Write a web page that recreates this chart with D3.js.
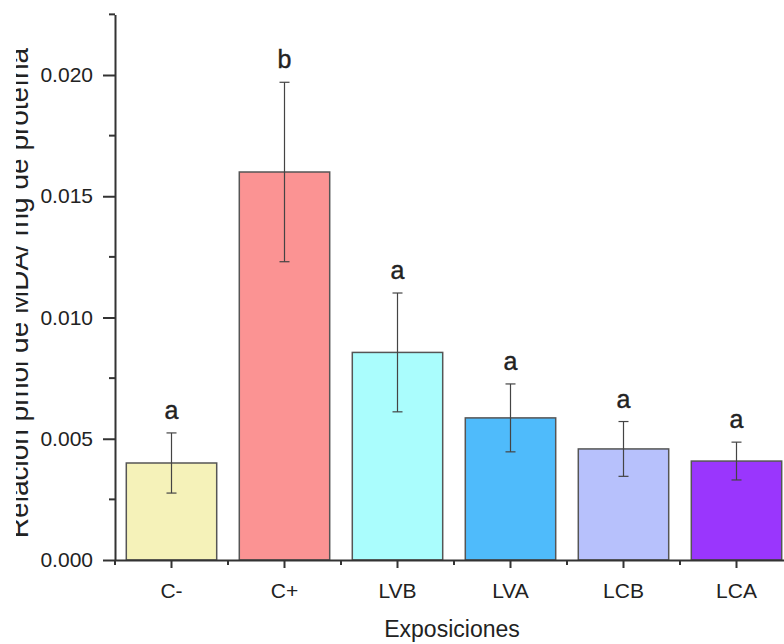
<!DOCTYPE html>
<html>
<head>
<meta charset="utf-8">
<script src="https://cdn.jsdelivr.net/npm/d3@7"></script>
<style>
  body { margin: 0; background: #fff; }
  text { font-family: "Liberation Sans", Arial, sans-serif; fill: #222; }
</style>
</head>
<body>
<div id="chart"></div>
<script>
// data
const groups = ["C-", "C+", "LVB", "LVA", "LCB", "LCA"];
const means = [0.0040, 0.0160, 0.00856, 0.00586, 0.00458, 0.00408];
const errors = [0.00124, 0.0037, 0.00245, 0.0014, 0.00113, 0.00078];
const letters = ["a", "b", "a", "a", "a", "a"];
const barColors = ["#f5f2b9", "#fb9393", "#aafdfd", "#4fbbfb", "#b7c1fc", "#9a36fd"];
const yTicks = [0, 0.005, 0.010, 0.015, 0.020];

var W = 784, H = 644;
var x0 = 115, yBase = 560;

var svg = d3.select("#chart")
  .append("svg")
    .attr("width", W)
    .attr("height", H);

// x scale runs past the right edge, the original is cropped there
var x = d3.scaleBand()
  .domain(groups)
  .range([x0, x0 + 6 * 113])
  .paddingInner(0.2)
  .paddingOuter(0.1);

var y = d3.scaleLinear()
  .domain([0, 0.0225])
  .range([yBase, yBase - 0.0225 * 24250]);

// bars
svg.selectAll("rect.bar")
  .data(groups)
  .enter()
  .append("rect")
    .attr("class", "bar")
    .attr("x", function(d) { return x(d); })
    .attr("y", function(d, i) { return y(means[i]); })
    .attr("width", x.bandwidth())
    .attr("height", function(d, i) { return yBase - y(means[i]); })
    .attr("fill", function(d, i) { return barColors[i]; })
    .attr("stroke", "#555")
    .attr("stroke-width", 1.5);

// error bars + letters
var eb = svg.append("g")
  .attr("stroke", "#444")
  .attr("stroke-width", 1.2);

groups.forEach(function(g, i) {
  var cx = x(g) + x.bandwidth() / 2;
  var top = y(means[i] + errors[i]), bot = y(means[i] - errors[i]);
  eb.append("line").attr("x1", cx).attr("x2", cx).attr("y1", top).attr("y2", bot);
  eb.append("line").attr("x1", cx - 5).attr("x2", cx + 5).attr("y1", top).attr("y2", top);
  eb.append("line").attr("x1", cx - 5).attr("x2", cx + 5).attr("y1", bot).attr("y2", bot);
  svg.append("text")
    .attr("x", cx)
    .attr("y", top - 14)
    .attr("text-anchor", "middle")
    .style("font-size", "25px")
    .style("stroke", "#222")
    .style("stroke-width", 0.4)
    .text(letters[i]);
});

// y axis
var yAxis = svg.append("g")
  .attr("transform", "translate(" + x0 + ",0)")
  .call(d3.axisLeft(y).tickValues(yTicks).tickFormat(d3.format(".3f")).tickSize(12).tickSizeOuter(0));
yAxis.select(".domain").attr("stroke", "#333").attr("stroke-width", 2);
yAxis.selectAll(".tick line").attr("stroke", "#333").attr("stroke-width", 2);
yAxis.selectAll("text").style("font-size", "21px").attr("fill", "#4a4f57").attr("x", -22);

// minor y ticks
svg.append("g")
  .selectAll("line")
  .data(d3.range(0.0025, 0.0226, 0.005))
  .enter()
  .append("line")
    .attr("x1", x0 - 6).attr("x2", x0)
    .attr("y1", function(d) { return y(d); })
    .attr("y2", function(d) { return y(d); })
    .attr("stroke", "#333")
    .attr("stroke-width", 2);

// x axis
var xAxis = svg.append("g")
  .attr("transform", "translate(0," + yBase + ")")
  .call(d3.axisBottom(x).tickSize(8).tickSizeOuter(0));
xAxis.select(".domain").attr("stroke", "#333").attr("stroke-width", 2);
xAxis.selectAll(".tick line").attr("stroke", "#333").attr("stroke-width", 2);
xAxis.selectAll("text").style("font-size", "21px").attr("fill", "#222").attr("y", 23);

// minor x ticks at band edges
svg.append("g")
  .selectAll("line")
  .data(groups)
  .enter()
  .append("line")
    .attr("x1", function(d) { return x(d) - x.step() * 0.1; })
    .attr("x2", function(d) { return x(d) - x.step() * 0.1; })
    .attr("y1", yBase).attr("y2", yBase + 5)
    .attr("stroke", "#333")
    .attr("stroke-width", 2);

// axis titles
svg.append("text")
  .attr("x", 452)
  .attr("y", 637)
  .attr("text-anchor", "middle")
  .style("font-size", "23px")
  .text("Exposiciones");

// the y title is cut on its left side in the original
svg.append("clipPath")
  .attr("id", "ylabClip")
  .append("rect")
    .attr("x", 16).attr("y", 0)
    .attr("width", 100).attr("height", H);

svg.append("g")
  .attr("clip-path", "url(#ylabClip)")
  .append("text")
    .attr("transform", "translate(28,293) rotate(-90)")
    .attr("text-anchor", "middle")
    .style("font-size", "28px")
    .text("Relación pmol de MDA/ mg de proteína");
</script>
</body>
</html>
